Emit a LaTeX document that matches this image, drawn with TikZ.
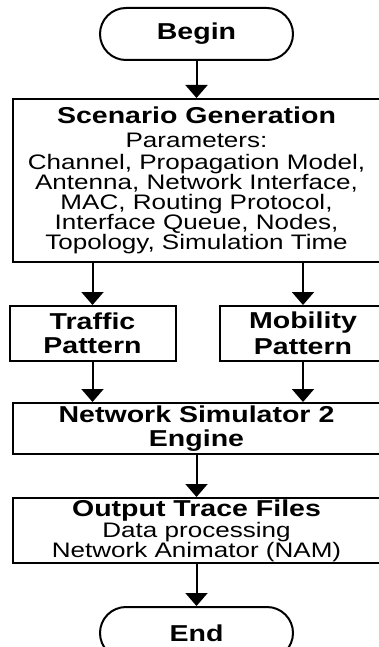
\documentclass[tikz,border=0pt]{standalone}
\usepackage{fontspec}
\setmainfont{Liberation Sans}[FakeStretch=1.24]
\usepackage{tikz}
\usetikzlibrary{arrows.meta,positioning,calc}

\newcommand\titlefont{\bfseries\fontsize{23}{24}\selectfont}

\begin{document}
\begin{tikzpicture}[line width=2pt, black, x=1pt, y=1pt, >={Triangle[width=22pt,length=13pt]}]
    \useasboundingbox (0,0) rectangle (379,-647);

    %Nodes
    \begin{scope}[every node/.style={rectangle, draw=black, line width=2pt, align=center, inner sep=0pt, font=\fontsize{21}{20}\selectfont}]
    \node (Begin)    [rounded corners=26pt, minimum width=193pt, minimum height=52pt] at (196.5,-34) {\titlefont Begin};
    \node (Scen)     [below=37pt of Begin, minimum width=368pt, minimum height=163pt]
        {{\titlefont Scenario Generation}\\[4pt]
         Parameters:\\[2pt]
         Channel, Propagation Model,\\
         Antenna, Network Interface,\\
         MAC, Routing Protocol,\\
         Interface Queue, Nodes,\\
         Topology, Simulation Time};
    \node (Traffic)  [below=42pt of Scen.south, xshift=-104pt, minimum width=166pt, minimum height=55pt]
        {{\titlefont Traffic}\\[4pt]{\titlefont Pattern}};
    \node (Mobility) [below=42pt of Scen.south, xshift=106.5pt, minimum width=166pt, minimum height=55pt]
        {{\titlefont Mobility}\\[4pt]{\titlefont Pattern}};
    \node (NS2)      [below=40pt of Traffic, xshift=104pt, minimum width=368pt, minimum height=51pt]
        {{\titlefont Network Simulator 2}\\[4pt]{\titlefont Engine}};
    \node (Output)   [below=42pt of NS2, minimum width=368pt, minimum height=65pt]
        {{\titlefont Output Trace Files}\\[1pt]
         Data processing\\
         Network Animator (NAM)};
    \node (End)      [below=42pt of Output, rounded corners=26pt, minimum width=193pt, minimum height=52pt] {\titlefont End};
    \end{scope}

    %Lines
    \draw[->] (Begin) -- (Scen);
    \draw[->] (Scen.south -| Traffic)  -- (Traffic);
    \draw[->] (Scen.south -| Mobility) -- (Mobility);
    \draw[->] (Traffic)  -- (Traffic |- NS2.north);
    \draw[->] (Mobility) -- (Mobility |- NS2.north);
    \draw[->] (NS2)    -- (Output);
    \draw[->] (Output) -- (End);
\end{tikzpicture}
\end{document}
